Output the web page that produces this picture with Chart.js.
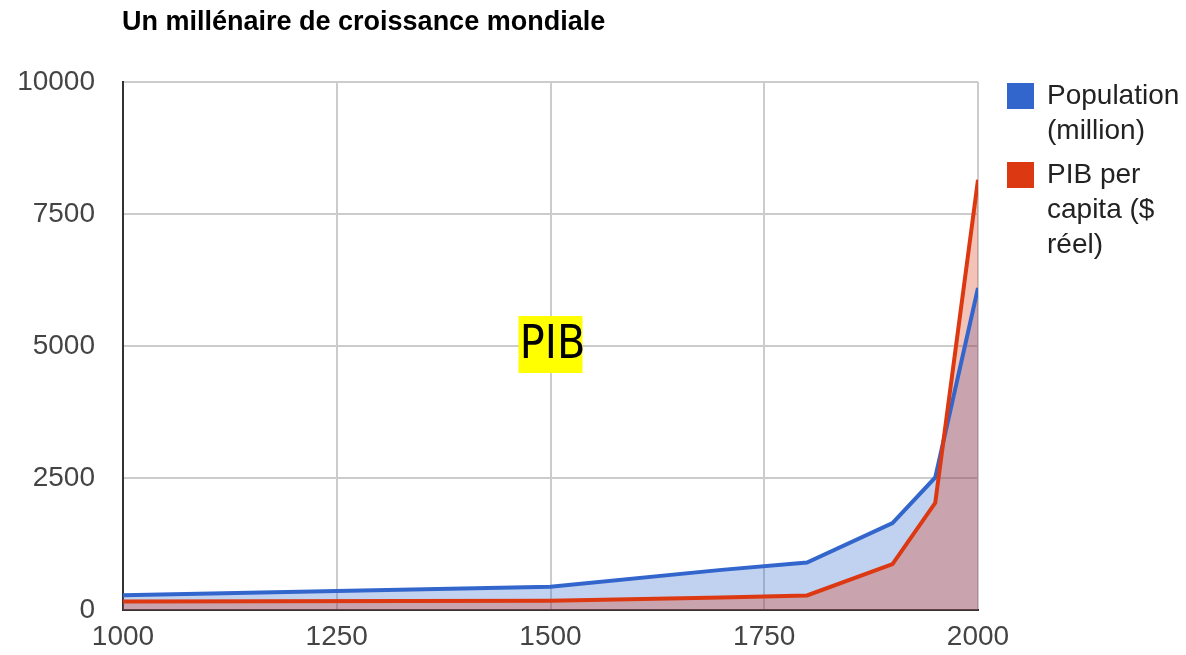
<!DOCTYPE html>
<html>
<head>
<meta charset="utf-8">
<script src="https://cdn.jsdelivr.net/npm/chart.js@4.4.1/dist/chart.umd.min.js"></script>
<style>
  html, body { margin: 0; padding: 0; background: #fff; }
</style>
</head>
<body>
<canvas id="graficoAires" width="1186" height="655"></canvas>
<script>
// données
const annees = [1000, 1500, 1700, 1800, 1900, 1950, 2000];
const population = [280, 440, 760, 900, 1645, 2510, 6100];
const pibParHabitant = [160, 175, 235, 275, 870, 2030, 8150];
const etiquettes = [["Population", "(million)"], ["PIB per", "capita ($", "réel)"]];
const titre = "Un millénaire de croissance mondiale";
const ticksX = [1000, 1250, 1500, 1750, 2000];
const ticksY = [0, 2500, 5000, 7500, 10000];
const note = { texte: "PIB", x: 1500, y: 5000 };

const police = "'Liberation Sans', Arial, sans-serif";

const titrePlugin = {
    id: "titre",
    afterDraw(chart) {
        const { ctx, chartArea } = chart;
        ctx.save();
        ctx.font = "bold 27px " + police;
        ctx.fillStyle = "#000";
        ctx.textAlign = "left";
        ctx.textBaseline = "middle";
        ctx.fillText(titre, chartArea.left - 1, 23);
        ctx.restore();
    }
};

const legendePlugin = {
    id: "legende",
    afterDraw(chart) {
        const { ctx, chartArea } = chart;
        ctx.save();
        ctx.font = "28px " + police;
        ctx.textAlign = "left";
        ctx.textBaseline = "middle";
        let y = chartArea.top + 1;
        chart.data.datasets.forEach((ds, i) => {
            ctx.fillStyle = ds.borderColor;
            ctx.fillRect(chartArea.right + 29, y, 27, 26);
            ctx.fillStyle = "#222";
            etiquettes[i].forEach((ligne, j) => {
                ctx.fillText(ligne, chartArea.right + 69, y + 13 + j * 35);
            });
            y += etiquettes[i].length * 35 + 9;
        });
        ctx.restore();
    }
};

const notePlugin = {
    id: "note",
    afterDatasetsDraw(chart) {
        const { ctx, scales } = chart;
        const cx = scales.x.getPixelForValue(note.x);
        const cy = scales.y.getPixelForValue(note.y);
        ctx.save();
        ctx.fillStyle = "#ffff00";
        ctx.fillRect(cx - 32, cy - 30, 64, 57);
        ctx.font = "46px 'Liberation Sans Narrow', 'DejaVu Sans Condensed', sans-serif";
        ctx.fillStyle = "#000";
        ctx.textAlign = "center";
        ctx.textBaseline = "middle";
        ctx.fillText(note.texte, cx + 2, cy);
        ctx.restore();
    }
};

const ctx = document.getElementById("graficoAires").getContext("2d");
const grafico = new Chart(ctx, {
    type: "line",
    data: {
        datasets: [{
            label: "Population (million)",
            data: annees.map((a, i) => ({ x: a, y: population[i] })),
            borderColor: "#3366cc",
            backgroundColor: "rgba(51, 102, 204, 0.3)",
            fill: "origin",
            borderWidth: 4,
            pointRadius: 0,
            tension: 0,
            order: 1
        }, {
            label: "PIB per capita ($ réel)",
            data: annees.map((a, i) => ({ x: a, y: pibParHabitant[i] })),
            borderColor: "#dc3912",
            backgroundColor: "rgba(220, 57, 18, 0.3)",
            fill: "origin",
            borderWidth: 4,
            pointRadius: 0,
            tension: 0,
            order: 0
        }]
    },
    options: {
        responsive: false,
        animation: false,
        devicePixelRatio: 1,
        layout: { padding: { top: 82, right: 208, bottom: 0, left: 0 } },
        plugins: {
            legend: { display: false },
            title: { display: false },
            tooltip: { enabled: false },
            filler: { drawTime: "beforeDatasetsDraw" }
        },
        scales: {
            x: {
                type: "linear",
                min: 1000,
                max: 2000,
                afterBuildTicks: (s) => { s.ticks = ticksX.map(v => ({ value: v })); },
                afterFit: (s) => { s.height = 45; },
                ticks: { color: "#444", font: { family: police, size: 28 }, padding: 10, callback: (v) => String(v) },
                grid: { color: "#cccccc", lineWidth: 2, drawTicks: false },
                border: { color: "#333", width: 2 }
            },
            y: {
                min: 0,
                max: 10000,
                afterBuildTicks: (s) => { s.ticks = ticksY.map(v => ({ value: v })); },
                afterFit: (s) => { s.width = 123; },
                ticks: { color: "#444", font: { family: police, size: 28 }, padding: 28, callback: (v) => String(v) },
                grid: { color: "#cccccc", lineWidth: 2, drawTicks: false },
                border: { color: "#333", width: 2 }
            }
        }
    },
    plugins: [titrePlugin, legendePlugin, notePlugin]
});
</script>
</body>
</html>
